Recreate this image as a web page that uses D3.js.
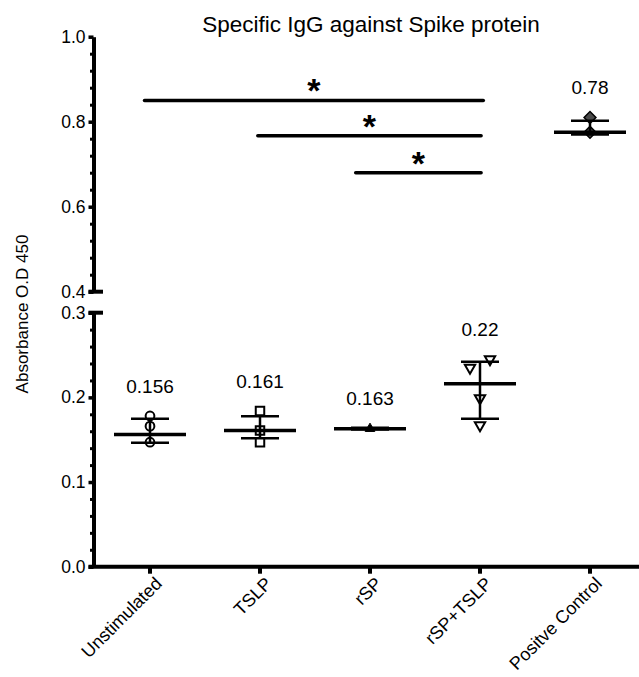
<!doctype html>
<html lang="en">
<head>
<meta charset="utf-8" />
<style>
  body { margin: 0; background: #fff; }
  svg text { font-family: "Liberation Sans", Arial, sans-serif; fill: #000; }
  .axis path, .axis line { stroke: #000; }
</style>
</head>
<body>
<div id="chart"></div>
<script src="https://d3js.org/d3.v7.min.js"></script>
<script>
// groups and values
var categories = ["Unstimulated", "TSLP", "rSP", "rSP+TSLP", "Positve Control"];
var unstimPts = [0.178, 0.166, 0.147];
var tslpPts = [0.184, 0.161, 0.147];
var rspPts = [0.163];
var rspTslpPts = [0.245, 0.235, 0.199, 0.167];
var posCtrlPts = [0.81, 0.775];
var means = [0.156, 0.161, 0.163, 0.216, 0.775];
var errHigh = [0.1746, 0.1776, 0.164, 0.242, 0.802];
var errLow = [0.1464, 0.1518, 0.162, 0.1746, 0.770];
var meanLabels = ["0.156", "0.161", "0.163", "0.22", "0.78"];
// significance bars, ends given in category-index units
var sigFrom = [-0.05, 0.98, 1.87];
var sigTo = [3.03, 3.01, 3.01];
var sigLevel = [0.85, 0.767, 0.68];
var sigText = ["*", "*", "*"];
var topTicks = [0.4, 0.6, 0.8, 1.0];
var bottomTicks = [0.0, 0.1, 0.2, 0.3];

var width = 639, height = 677;
var font = '"Liberation Sans", Arial, sans-serif';

var svg = d3.select("#chart").append("svg")
    .attr("width", width)
    .attr("height", height);

// two y segments with an axis break between 0.3 and 0.4
var yTop = d3.scaleLinear().domain([0.4, 1.0]).range([291.7, 36.7]);
var yBot = d3.scaleLinear().domain([0, 0.3]).range([566.7, 312.7]);
var y = function(v) { return v >= 0.35 ? yTop(v) : yBot(v); };

var x = d3.scaleBand().domain(categories).range([95, 645]).padding(0);
var xc = function(c) { return x(c) + x.bandwidth() / 2; };
var xi = d3.scaleLinear().domain([0, 4]).range([xc(categories[0]), xc(categories[4])]);

var axisX = 93.5;

// y axis, top part
var gTop = svg.append("g").attr("class", "axis").attr("transform", "translate(" + axisX + ",0)");
gTop.call(d3.axisLeft(yTop).tickValues(topTicks).tickFormat(d3.format(".1f")).tickSize(5).tickSizeOuter(0));
var gTopMinor = svg.append("g").attr("class", "axis").attr("transform", "translate(" + axisX + ",0)");
gTopMinor.call(d3.axisLeft(yTop)
  .tickValues(d3.range(0.44, 1.0, 0.04).filter(function(v) { return Math.abs(v * 5 - Math.round(v * 5)) > 0.01; }))
  .tickFormat("").tickSize(3.5).tickSizeOuter(0));
gTopMinor.select(".domain").remove();

// y axis, bottom part
var gBot = svg.append("g").attr("class", "axis").attr("transform", "translate(" + axisX + ",0)");
gBot.call(d3.axisLeft(yBot).tickValues(bottomTicks).tickFormat(d3.format(".1f")).tickSize(5).tickSizeOuter(0));
var gBotMinor = svg.append("g").attr("class", "axis").attr("transform", "translate(" + axisX + ",0)");
gBotMinor.call(d3.axisLeft(yBot)
  .tickValues(d3.range(0.02, 0.3, 0.02).filter(function(v) { return Math.abs(v * 10 - Math.round(v * 10)) > 0.01; }))
  .tickFormat("").tickSize(3.5).tickSizeOuter(0));
gBotMinor.select(".domain").remove();

[gTop, gBot].forEach(function(g) {
  g.select(".domain").attr("stroke-width", 4);
  g.selectAll(".tick line").attr("stroke-width", 3.5);
  g.selectAll(".tick text").attr("font-size", 17.5).attr("font-family", font).attr("x", -8);
});
[gTopMinor, gBotMinor].forEach(function(g) {
  g.selectAll(".tick line").attr("stroke-width", 3);
});

// break caps
svg.append("g").selectAll("line")
  .data([0.4, 0.3])
  .enter().append("line")
  .attr("x1", axisX - 5).attr("x2", axisX + 9.5)
  .attr("y1", function(d) { return y(d); }).attr("y2", function(d) { return y(d); })
  .attr("stroke", "#000").attr("stroke-width", 4);

// x axis
var gx = svg.append("g").attr("class", "axis").attr("transform", "translate(0," + yBot(0) + ")");
gx.call(d3.axisBottom(x).tickSize(7).tickSizeOuter(0));
gx.select(".domain").attr("stroke-width", 4).attr("d", "M" + (axisX - 5) + ",0H" + width);
gx.selectAll(".tick line").attr("stroke-width", 4);
gx.selectAll(".tick text")
  .attr("font-size", 18)
  .attr("font-family", font)
  .attr("text-anchor", "end")
  .attr("dy", "0.71em")
  .attr("y", 0)
  .attr("transform", "translate(4,9) rotate(-45)");

// title and axis label
svg.append("text")
  .attr("x", 371).attr("y", 31.5)
  .attr("text-anchor", "middle")
  .attr("font-size", 22.5)
  .text("Specific IgG against Spike protein");

svg.append("text")
  .attr("transform", "translate(28,314) rotate(-90)")
  .attr("text-anchor", "middle")
  .attr("font-size", 17)
  .text("Absorbance O.D 450");

// points per group, nudged sideways when they would overlap
var groups = [unstimPts, tslpPts, rspPts, rspTslpPts, posCtrlPts];
var symbols = [
  { type: d3.symbolCircle, size: 60, fill: "none", stroke: "#000", sw: 2, rot: 0 },
  { type: d3.symbolSquare, size: 72, fill: "none", stroke: "#000", sw: 2, rot: 0 },
  { type: d3.symbolTriangle, size: 40, fill: "#000", stroke: "#000", sw: 1, rot: 0 },
  { type: d3.symbolTriangle, size: 46, fill: "none", stroke: "#000", sw: 2, rot: 180 },
  { type: d3.symbolSquare, size: 70, fill: "#4a4a4a", stroke: "#000", sw: 1.5, rot: 45 }
];

var points = [];
groups.forEach(function(vals, gi) {
  var placed = [];
  vals.slice().sort(d3.descending).forEach(function(v) {
    var py = y(v), dx = 0;
    var hit = placed.some(function(p) { return Math.abs(p.py - py) < 9; });
    if (hit) {
      dx = placed.some(function(p) { return Math.abs(p.py - py) < 9 && p.dx >= 0; }) ? -10 : 10;
      placed.forEach(function(p) { if (Math.abs(p.py - py) < 9 && p.dx === 0) p.dx = -dx; });
    }
    placed.push({ g: gi, v: v, py: py, dx: dx });
  });
  points = points.concat(placed);
});

var pts = svg.append("g").attr("id", "points");
pts.selectAll("path")
  .data(points)
  .enter().append("path")
  .attr("d", function(d) { return d3.symbol().type(symbols[d.g].type).size(symbols[d.g].size)(); })
  .attr("transform", function(d) {
    return "translate(" + (xc(categories[d.g]) + d.dx) + "," + d.py + ") rotate(" + symbols[d.g].rot + ")";
  })
  .attr("fill", function(d) { return symbols[d.g].fill; })
  .attr("stroke", function(d) { return symbols[d.g].stroke; })
  .attr("stroke-width", function(d) { return symbols[d.g].sw; });

// mean and error bars
var stats = svg.append("g").attr("id", "stats");
var idx = d3.range(categories.length);
stats.selectAll("line.err")
  .data(idx).enter().append("line").attr("class", "err")
  .attr("x1", function(i) { return xc(categories[i]); })
  .attr("x2", function(i) { return xc(categories[i]); })
  .attr("y1", function(i) { return y(errHigh[i]); })
  .attr("y2", function(i) { return y(errLow[i]); })
  .attr("stroke", "#000").attr("stroke-width", 2.5);
stats.selectAll("line.capHi")
  .data(idx).enter().append("line").attr("class", "capHi")
  .attr("x1", function(i) { return xc(categories[i]) - 19; })
  .attr("x2", function(i) { return xc(categories[i]) + 19; })
  .attr("y1", function(i) { return y(errHigh[i]); })
  .attr("y2", function(i) { return y(errHigh[i]); })
  .attr("stroke", "#000").attr("stroke-width", 2.5);
stats.selectAll("line.capLo")
  .data(idx).enter().append("line").attr("class", "capLo")
  .attr("x1", function(i) { return xc(categories[i]) - 19; })
  .attr("x2", function(i) { return xc(categories[i]) + 19; })
  .attr("y1", function(i) { return y(errLow[i]); })
  .attr("y2", function(i) { return y(errLow[i]); })
  .attr("stroke", "#000").attr("stroke-width", 2.5);
stats.selectAll("line.mean")
  .data(idx).enter().append("line").attr("class", "mean")
  .attr("x1", function(i) { return xc(categories[i]) - 36; })
  .attr("x2", function(i) { return xc(categories[i]) + 36; })
  .attr("y1", function(i) { return y(means[i]); })
  .attr("y2", function(i) { return y(means[i]); })
  .attr("stroke", "#000").attr("stroke-width", 3.5);

// mean value labels above each group
stats.selectAll("text")
  .data(idx).enter().append("text")
  .attr("x", function(i) { return xc(categories[i]); })
  .attr("y", function(i) { return y(Math.max(errHigh[i], d3.max(groups[i]))) - 23; })
  .attr("text-anchor", "middle")
  .attr("font-size", 19)
  .text(function(i) { return meanLabels[i]; });

// significance bars
var sig = svg.append("g").attr("id", "sig");
sig.selectAll("line")
  .data(sigLevel).enter().append("line")
  .attr("x1", function(d, i) { return xi(sigFrom[i]); })
  .attr("x2", function(d, i) { return xi(sigTo[i]); })
  .attr("y1", function(d) { return y(d); })
  .attr("y2", function(d) { return y(d); })
  .attr("stroke", "#000").attr("stroke-width", 3.5).attr("stroke-linecap", "round");
sig.selectAll("text")
  .data(sigLevel).enter().append("text")
  .attr("x", function(d, i) { return (xi(sigFrom[i]) + xi(sigTo[i])) / 2; })
  .attr("y", function(d) { return y(d) + 2; })
  .attr("text-anchor", "middle")
  .attr("font-size", 34)
  .attr("font-weight", "bold")
  .text(function(d, i) { return sigText[i]; });
</script>
</body>
</html>
